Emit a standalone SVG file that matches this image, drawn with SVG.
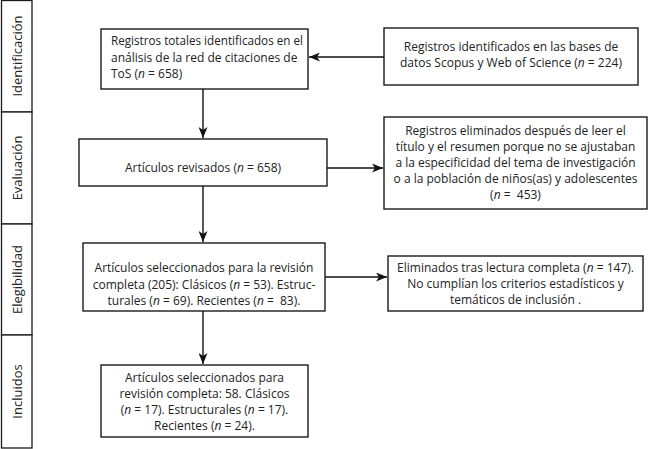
<svg xmlns="http://www.w3.org/2000/svg" width="650" height="449" viewBox="0 0 650 449">
<defs>
<marker id="ah" viewBox="0 0 11 9" refX="11" refY="4.5" markerWidth="11" markerHeight="9" markerUnits="userSpaceOnUse" orient="auto">
<path d="M0,0 L11,4.5 L0,9 L3,4.5 z" fill="#111"/>
</marker>
<style>
.box{fill:#fff;stroke:#1a1a1a;stroke-width:1.4}
.side{fill:#fff;stroke:#1a1a1a;stroke-width:1.3}
.t{font-family:"Open Sans","Liberation Sans",sans-serif;font-size:12px;fill:#222;white-space:pre}
.c{text-anchor:middle}
.s{font-family:"Open Sans","Liberation Sans",sans-serif;font-size:13px;fill:#222;text-anchor:middle}
.i{font-style:italic}
.ln{stroke:#111;stroke-width:1.4;fill:none;marker-end:url(#ah)}
</style>
</defs>
<rect width="650" height="449" fill="#fff"/>
<g id="phases">
<g id="phase-identificacion"><rect class="side" x="1.5" y="0.5" width="30.5" height="111.5"/><text class="s" transform="translate(21.5,56) rotate(-90)">Identificación</text></g>
<g id="phase-evaluacion"><rect class="side" x="1.5" y="112" width="30.5" height="112"/><text class="s" transform="translate(21.5,168) rotate(-90)">Evaluación</text></g>
<g id="phase-elegibilidad"><rect class="side" x="1.5" y="224" width="30.5" height="111"/><text class="s" transform="translate(21.5,279.5) rotate(-90)">Elegibilidad</text></g>
<g id="phase-incluidos"><rect class="side" x="1.5" y="335" width="30.5" height="113"/><text class="s" transform="translate(21.5,391.5) rotate(-90)">Incluidos</text></g>
</g>
<g id="connectors">
<line class="ln" x1="384" y1="57" x2="309" y2="57"/>
<line class="ln" x1="203" y1="89" x2="203" y2="138"/>
<line class="ln" x1="327" y1="168" x2="383" y2="168"/>
<line class="ln" x1="203" y1="186" x2="203" y2="242"/>
<line class="ln" x1="325" y1="277" x2="387" y2="277"/>
<line class="ln" x1="203" y1="311" x2="203" y2="364"/>
</g>
<g id="n-total">
<rect class="box" x="101" y="29" width="207" height="60"/>
<text class="t" x="111" y="45" textLength="192" lengthAdjust="spacingAndGlyphs">Registros totales identificados en el</text>
<text class="t" x="111" y="61.5">análisis de la red de citaciones de</text>
<text class="t" x="111" y="78">ToS (<tspan class="i">n</tspan> = 658)</text>
</g>
<g id="n-scopus">
<rect class="box" x="384" y="28" width="254" height="57"/>
<text class="t c" x="511" y="51">Registros identificados en las bases de</text>
<text class="t c" x="511" y="67">datos Scopus y Web of Science (<tspan class="i">n</tspan> = 224)</text>
</g>
<g id="n-revisados">
<rect class="box" x="79" y="139" width="248" height="47"/>
<text class="t c" x="203" y="172">Artículos revisados (<tspan class="i">n</tspan> = 658)</text>
</g>
<g id="n-eliminados1">
<rect class="box" x="384" y="117" width="263" height="92"/>
<text class="t c" x="515.5" y="135">Registros eliminados después de leer el</text>
<text class="t c" x="515.5" y="151">título y el resumen porque no se ajustaban</text>
<text class="t c" x="515.5" y="167">a la especificidad del tema de investigación</text>
<text class="t c" x="515.5" y="183">o a la población de niños(as) y adolescentes</text>
<text class="t c" x="515.5" y="199">(<tspan class="i">n</tspan> =  453)</text>
</g>
<g id="n-seleccionados">
<rect class="box" x="83" y="243" width="242" height="68"/>
<text class="t c" x="204" y="272">Artículos seleccionados para la revisión</text>
<text class="t c" x="204" y="288.5">completa (205): Clásicos (<tspan class="i">n</tspan> = 53). Estruc-</text>
<text class="t c" x="204" y="305">turales (<tspan class="i">n</tspan> = 69). Recientes (<tspan class="i">n</tspan> =  83).</text>
</g>
<g id="n-eliminados2">
<rect class="box" x="388" y="256" width="255" height="55"/>
<text class="t c" x="515.5" y="272">Eliminados tras lectura completa (<tspan class="i">n</tspan> = 147).</text>
<text class="t c" x="515.5" y="288">No cumplían los criterios estadísticos y</text>
<text class="t c" x="515.5" y="304">temáticos de inclusión .</text>
</g>
<g id="n-incluidos">
<rect class="box" x="101" y="365" width="207" height="72"/>
<text class="t c" x="204.5" y="382">Artículos seleccionados para</text>
<text class="t c" x="204.5" y="398">revisión completa: 58. Clásicos</text>
<text class="t c" x="204.5" y="414">(<tspan class="i">n</tspan> = 17). Estructurales (<tspan class="i">n</tspan> = 17).</text>
<text class="t c" x="204.5" y="430">Recientes (<tspan class="i">n</tspan> = 24).</text>
</g>
</svg>
